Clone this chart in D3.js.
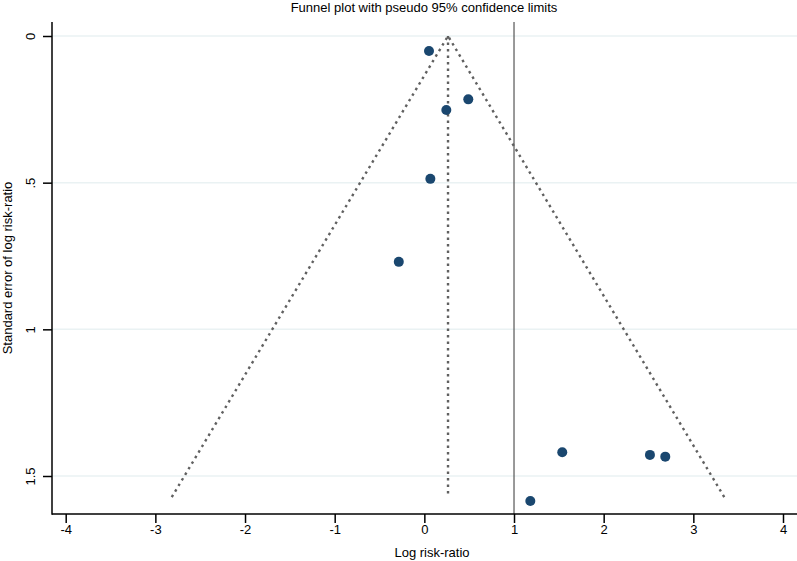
<!DOCTYPE html>
<html>
<head>
<meta charset="utf-8">
<script src="https://cdn.jsdelivr.net/npm/d3@7"></script>
<style>
  body { margin: 0; background: #fff; }
  text { font-family: "Liberation Sans", Arial, sans-serif; fill: #000; }
</style>
</head>
<body>
<div id="chart"></div>
<script>
// study estimates (log risk-ratio) and their standard errors
const logRR = [0.052, 0.49, 0.245, 0.067, -0.285, 1.538, 2.516, 2.687, 1.182];
const seLogRR = [0.051, 0.216, 0.252, 0.487, 0.770, 1.419, 1.428, 1.434, 1.585];
// pooled estimate and funnel depth
const pooled = [0.264];
const funnelMaxSe = [1.572];
const xTicks = [-4, -3, -2, -1, 0, 1, 2, 3, 4];
const yTicks = [0, 0.5, 1, 1.5];
const yTickLabels = ["0", ".5", "1", "1.5"];

const width = 797, height = 561;
const margin = { top: 22, right: 0, bottom: 47, left: 52 };
const fontSize = 13;

const svg = d3.select("#chart").append("svg")
  .attr("width", width)
  .attr("height", height);

// x: -4 at 65.7, 4 at 783
const x = d3.scaleLinear().domain([-4, 4]).range([65.7, 783]);
// y: 0 at 36, 1.5 at 476 (reversed)
const y = d3.scaleLinear().domain([0, 1.5]).range([36, 476]);

const plotBottom = height - margin.bottom;

// grid lines
svg.append("g")
  .selectAll("line")
  .data(yTicks)
  .join("line")
  .attr("x1", margin.left)
  .attr("x2", width)
  .attr("y1", d => y(d))
  .attr("y2", d => y(d))
  .attr("stroke", "#eaf2f3")
  .attr("stroke-width", 1.5);

// null line at 1
svg.append("line")
  .attr("x1", x(1)).attr("x2", x(1))
  .attr("y1", margin.top).attr("y2", plotBottom)
  .attr("stroke", "#555")
  .attr("stroke-width", 1.2);

// funnel
const theta = pooled[0];
const seMax = funnelMaxSe[0];
const funnel = [
  [theta - 1.96 * seMax, seMax],
  [theta, 0],
  [theta + 1.96 * seMax, seMax]
];
const line = d3.line().x(d => x(d[0])).y(d => y(d[1]));
const dotted = sel => sel
  .attr("fill", "none")
  .attr("stroke", "#606060")
  .attr("stroke-width", 2.4)
  .attr("stroke-dasharray", "2.5,4");

svg.append("path").attr("d", line(funnel)).call(dotted);
svg.append("path").attr("d", line([[theta, 0], [theta, seMax]])).call(dotted);

// points
svg.append("g")
  .selectAll("circle")
  .data(logRR.map((v, i) => [v, seLogRR[i]]))
  .join("circle")
  .attr("cx", d => x(d[0]))
  .attr("cy", d => y(d[1]))
  .attr("r", 5)
  .attr("fill", "#1a476f");

// x axis
const xAxis = svg.append("g")
  .attr("transform", `translate(0,${plotBottom})`)
  .call(d3.axisBottom(x).tickValues(xTicks).tickSize(9).tickPadding(2)
    .tickFormat(d3.format("d")));
xAxis.select(".domain").remove();
xAxis.append("line")
  .attr("x1", margin.left).attr("x2", width)
  .attr("stroke", "#000").attr("stroke-width", 1.5);
xAxis.selectAll(".tick line").attr("stroke", "#000").attr("stroke-width", 1.5);
xAxis.selectAll(".tick text").attr("font-size", fontSize)
  .text(d => d < 0 ? "-" + Math.abs(d) : d);

// y axis
const yAxis = svg.append("g")
  .attr("transform", `translate(${margin.left},0)`)
  .call(d3.axisLeft(y).tickValues(yTicks).tickSize(9).tickPadding(0)
    .tickFormat((d, i) => yTickLabels[i]));
yAxis.select(".domain").remove();
yAxis.append("line")
  .attr("y1", margin.top).attr("y2", plotBottom + 0.75)
  .attr("stroke", "#000").attr("stroke-width", 1.5);
yAxis.selectAll(".tick line").attr("stroke", "#000").attr("stroke-width", 1.5);
yAxis.selectAll(".tick text")
  .attr("font-size", fontSize)
  .attr("text-anchor", "middle")
  .attr("dy", 0)
  .attr("transform", "translate(-17.5,0) rotate(-90)")
  .attr("x", 0)
  .attr("y", 0);

// titles
svg.append("text")
  .attr("x", 424)
  .attr("y", 12)
  .attr("text-anchor", "middle")
  .attr("font-size", fontSize)
  .text("Funnel plot with pseudo 95% confidence limits");

svg.append("text")
  .attr("x", 432)
  .attr("y", 556.5)
  .attr("text-anchor", "middle")
  .attr("font-size", fontSize)
  .text("Log risk-ratio");

svg.append("text")
  .attr("transform", `translate(12,${(margin.top + plotBottom) / 2}) rotate(-90)`)
  .attr("text-anchor", "middle")
  .attr("font-size", fontSize)
  .text("Standard error of log risk-ratio");
</script>
</body>
</html>
